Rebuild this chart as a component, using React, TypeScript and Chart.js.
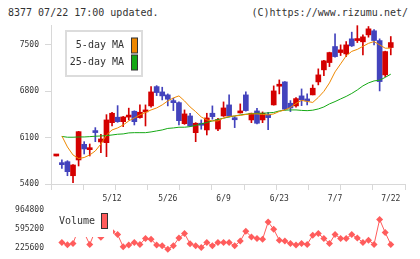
import { useEffect, useRef } from 'react';
import { Chart, registerables } from 'chart.js';

Chart.register(...registerables);

// Trading days shown on the chart
const DATES = [
  '4/23', '4/24', '4/25', '4/28', '4/30', '5/1', '5/2', '5/7', '5/8', '5/9',
  '5/12', '5/13', '5/14', '5/15', '5/16', '5/19', '5/20', '5/21', '5/22', '5/23',
  '5/26', '5/27', '5/28', '5/29', '5/30', '6/2', '6/3', '6/4', '6/5', '6/6',
  '6/9', '6/10', '6/11', '6/12', '6/13', '6/16', '6/17', '6/18', '6/19', '6/20',
  '6/23', '6/24', '6/25', '6/26', '6/27', '6/30', '7/1', '7/2', '7/3', '7/4',
  '7/7', '7/8', '7/9', '7/10', '7/11', '7/14', '7/15', '7/16', '7/17', '7/18',
  '7/22',
];

const OPEN = [
  5823, 5722, 5737, 5525, 5763, 5999, 5918, 6181, 6035, 6024,
  6326, 6408, 6341, 6410, 6498, 6402, 6488, 6579, 6870, 6790,
  6745, 6659, 6628, 6311, 6427, 6175, 6317, 6216, 6468, 6230,
  6427, 6594, 6378, 6473, 6745, 6367, 6503, 6367, 6443, 6594,
  6876, 6941, 6619, 6579, 6730, 6684, 6745, 6941, 7123, 7233,
  7475, 7384, 7364, 7591, 7565, 7546, 7651, 7712, 7565, 7047,
  7460,
];
const HIGH = [
  5823, 5763, 5752, 5695, 6195, 6039, 6004, 6251, 6151, 6447,
  6483, 6583, 6420, 6545, 6505, 6594, 6594, 6870, 6885, 6861,
  6760, 6695, 6640, 6518, 6468, 6326, 6367, 6468, 6579, 6393,
  6639, 6745, 6417, 6609, 6790, 6470, 6544, 6488, 6483, 6881,
  6971, 6945, 6659, 6704, 6835, 6760, 6896, 7138, 7265, 7390,
  7667, 7500, 7550, 7692, 7790, 7651, 7777, 7732, 7591, 7405,
  7626,
];
const LOW = [
  5823, 5637, 5525, 5420, 5672, 5853, 5823, 6039, 5873, 5813,
  6276, 6331, 6266, 6367, 6291, 6393, 6276, 6559, 6734, 6669,
  6579, 6508, 6291, 6300, 6270, 6039, 6227, 6140, 6378, 6205,
  6420, 6412, 6251, 6470, 6500, 6326, 6306, 6326, 6221, 6590,
  6760, 6518, 6493, 6559, 6583, 6594, 6745, 6896, 7036, 7172,
  7314, 7339, 7323, 7475, 7535, 7349, 7616, 7500, 6805, 7021,
  7349,
];
const CLOSE = [
  5823, 5692, 5586, 5687, 6190, 5929, 5944, 6176, 6080, 6367,
  6468, 6341, 6412, 6425, 6341, 6483, 6518, 6790, 6780, 6730,
  6680, 6628, 6356, 6458, 6276, 6317, 6287, 6397, 6417, 6372,
  6548, 6427, 6370, 6503, 6508, 6468, 6317, 6468, 6402, 6805,
  6881, 6529, 6548, 6689, 6669, 6654, 6846, 7047, 7259, 7384,
  7323, 7425, 7500, 7485, 7576, 7621, 7742, 7566, 6946, 7399,
  7535,
];

const MA5 = [
  null, 6125, 5959, 5838, 5785, 5800, 5838, 5899, 6004, 6140,
  6216, 6246, 6291, 6352, 6397, 6443, 6480, 6518, 6548, 6594,
  6654, 6699, 6730, 6654, 6563, 6492, 6412, 6367, 6352, 6352,
  6397, 6420, 6427, 6435, 6450, 6458, 6458, 6450, 6443, 6458,
  6495, 6518, 6556, 6616, 6662, 6647, 6631, 6707, 6798, 6926,
  7092, 7213, 7334, 7402, 7432, 7478, 7523, 7550, 7500, 7450,
  7450,
];
const MA25 = [
  null, 6118, 6106, 6106, 6110, 6110, 6115, 6121, 6125, 6130,
  6140, 6151, 6156, 6171, 6175, 6175, 6175, 6186, 6201, 6216,
  6239, 6246, 6257, 6257, 6266, 6284, 6307, 6329, 6352, 6375,
  6393, 6412, 6427, 6443, 6453, 6462, 6468, 6468, 6473, 6480,
  6503, 6514, 6518, 6518, 6511, 6507, 6514, 6533, 6563, 6609,
  6644, 6684, 6722, 6767, 6820, 6881, 6926, 6956, 6967, 7009,
  7058,
];

const VOLUME = [
  null, 338000, 295000, 319000, 600000, 520000, 300000, 560000, 437000, 640000,
  540000, 488000, 256000, 287000, 338000, 301000, 413000, 400000, 287000, 274000,
  207000, 274000, 424000, 507000, 312000, 274000, 244000, 338000, 274000, 338000,
  338000, 338000, 274000, 363000, 550000, 443000, 413000, 400000, 725000, 588000,
  381000, 363000, 319000, 287000, 319000, 301000, 475000, 507000, 413000, 319000,
  488000, 413000, 413000, 488000, 424000, 338000, 381000, 301000, 775000, 526000,
  301000,
];

const DATE_TICKS = ['5/12', '5/26', '6/9', '6/23', '7/7', '7/22'];
const PRICE_TICKS = [5400, 6100, 6800, 7500];
const VOLUME_TICKS = [225600, 595200, 964800];

const RED = '#d40000';
const BLUE = '#4343bd';
const ORANGE = '#ee8800';
const GREEN = '#14a814';
const VOL_COLOR = '#ff5c5c';
const AXIS_GRAY = '#d8d8d8';
const TEXT = '#333';
const MONO = '"DejaVu Sans Mono", "Liberation Mono", monospace';

const X_MIN = -0.95;
const X_MAX = 62.55;

const maLegend = {
  id: 'maLegend',
  afterDraw(chart: any) {
    const ctx = chart.ctx;
    const items = chart.data.datasets.filter((d: any) => d.type === 'line');
    ctx.save();
    ctx.fillStyle = '#fff';
    ctx.fillRect(65, 30, 78, 47);
    ctx.strokeStyle = '#dcdcdc';
    ctx.lineWidth = 2;
    ctx.strokeRect(66, 31, 76, 45);
    ctx.font = `10px ${MONO}`;
    ctx.textAlign = 'right';
    ctx.textBaseline = 'middle';
    items.forEach((d: any, k: number) => {
      const cy = 45.5 + k * 17;
      ctx.fillStyle = TEXT;
      ctx.fillText(d.label, 124, cy);
      ctx.fillStyle = d.borderColor;
      ctx.fillRect(131.5, cy - 7.5, 6, 15);
      ctx.strokeStyle = '#333';
      ctx.lineWidth = 1;
      ctx.strokeRect(131.5, cy - 7.5, 6, 15);
    });
    ctx.restore();
  },
};

// Volume legend: a white panel with label and swatch, laid over the top-left of the panel
const volumeLegend = {
  id: 'volumeLegend',
  afterDatasetsDraw(chart: any) {
    const ctx = chart.ctx;
    const d = chart.data.datasets[0];
    ctx.save();
    ctx.fillStyle = '#fff';
    ctx.fillRect(55, 0, 58, 34);
    ctx.font = `10px ${MONO}`;
    ctx.textAlign = 'left';
    ctx.textBaseline = 'middle';
    ctx.fillStyle = TEXT;
    ctx.fillText(d.label, 59, 18.5);
    ctx.fillStyle = d.borderColor;
    ctx.fillRect(101.5, 10.5, 6, 15);
    ctx.strokeStyle = '#333';
    ctx.lineWidth = 1;
    ctx.strokeRect(101.5, 10.5, 6, 15);
    ctx.restore();
  },
};

export default function App() {
  const priceRef = useRef<HTMLCanvasElement>(null);
  const volRef = useRef<HTMLCanvasElement>(null);

  useEffect(() => {
    const idx = DATES.map((_, i) => i);
    const candleColor = idx.map((i) => (CLOSE[i] >= OPEN[i] ? RED : BLUE));

    const price = new Chart(priceRef.current as HTMLCanvasElement, {
      type: 'bar',
      data: {
        datasets: [
          {
            type: 'line',
            label: '5-day MA',
            xAxisID: 'x',
            yAxisID: 'y',
            data: idx.map((i) => ({ x: i, y: MA5[i] })),
            borderColor: ORANGE,
            backgroundColor: ORANGE,
            borderWidth: 1,
            pointRadius: 0,
            tension: 0,
            order: 0,
          } as any,
          {
            type: 'line',
            label: '25-day MA',
            xAxisID: 'x',
            yAxisID: 'y',
            data: idx.map((i) => ({ x: i, y: MA25[i] })),
            borderColor: GREEN,
            backgroundColor: GREEN,
            borderWidth: 1,
            pointRadius: 0,
            tension: 0,
            order: 0,
          } as any,
          {
            type: 'bar',
            label: 'body',
            xAxisID: 'x',
            yAxisID: 'y',
            data: idx.map((i) => ({ x: i, y: [OPEN[i], CLOSE[i]] })),
            backgroundColor: candleColor,
            borderWidth: 0,
            borderSkipped: false,
            barThickness: 5,
            minBarLength: 2,
            grouped: false,
            order: 1,
          } as any,
          {
            type: 'bar',
            label: 'wick',
            xAxisID: 'x',
            yAxisID: 'y',
            data: idx.map((i) => ({ x: i, y: [LOW[i], HIGH[i]] })),
            backgroundColor: candleColor,
            borderWidth: 0,
            borderSkipped: false,
            barThickness: 1,
            grouped: false,
            order: 2,
          } as any,
        ],
      },
      options: {
        responsive: false,
        animation: false,
        events: [],
        layout: { padding: { left: 0, right: 15, top: 25, bottom: 0 } },
        plugins: { legend: { display: false }, tooltip: { enabled: false } },
        scales: {
          xt: {
            type: 'linear',
            axis: 'x',
            position: 'bottom',
            weight: 0,
            offset: false,
            min: 0,
            max: 11,
            ticks: { display: false, stepSize: 1 },
            grid: { offset: false, drawOnChartArea: false, drawTicks: true, tickLength: 6, color: AXIS_GRAY },
            border: { color: AXIS_GRAY },
          },
          x: {
            type: 'linear',
            axis: 'x',
            position: 'bottom',
            weight: 1,
            offset: false,
            min: X_MIN,
            max: X_MAX,
            grid: { offset: false, display: false, drawTicks: false },
            border: { display: false },
            afterBuildTicks: (scale: any) => {
              scale.ticks = DATE_TICKS.map((d) => ({ value: DATES.indexOf(d) }));
            },
            afterFit: (scale: any) => {
              scale.height = 15;
            },
            ticks: {
              autoSkip: false,
              maxRotation: 0,
              padding: 4,
              color: TEXT,
              font: { family: MONO, size: 8 },
              callback: (v: any) => DATES[v as number],
            },
          },
          y: {
            type: 'linear',
            position: 'left',
            min: 5400,
            max: 7800,
            grid: { drawOnChartArea: false, tickLength: 6, color: AXIS_GRAY },
            border: { color: AXIS_GRAY },
            afterBuildTicks: (scale: any) => {
              scale.ticks = PRICE_TICKS.map((v) => ({ value: v }));
            },
            afterFit: (scale: any) => {
              scale.width = 51;
            },
            ticks: {
              padding: 6,
              color: TEXT,
              font: { family: MONO, size: 8 },
              callback: (v: any) => String(v),
            },
          },
        },
      } as any,
      plugins: [maLegend],
    });

    const volume = new Chart(volRef.current as HTMLCanvasElement, {
      type: 'line',
      data: {
        datasets: [
          {
            label: 'Volume',
            xAxisID: 'x',
            yAxisID: 'y',
            data: idx.map((i) => ({ x: i, y: VOLUME[i] })),
            borderColor: VOL_COLOR,
            backgroundColor: VOL_COLOR,
            pointBackgroundColor: VOL_COLOR,
            pointBorderColor: VOL_COLOR,
            pointStyle: 'rectRot',
            pointRadius: 3.5,
            pointBorderWidth: 0,
            borderWidth: 1,
            tension: 0,
            clip: 8,
          } as any,
        ],
      },
      options: {
        responsive: false,
        animation: false,
        events: [],
        layout: { padding: { left: 0, right: 15, top: 2, bottom: 7 } },
        plugins: { legend: { display: false }, tooltip: { enabled: false } },
        scales: {
          x: { type: 'linear', offset: false, min: X_MIN, max: X_MAX, display: false },
          y: {
            type: 'linear',
            position: 'left',
            min: 156200,
            max: 1011700,
            grid: { display: false, drawTicks: false },
            border: { display: false },
            afterBuildTicks: (scale: any) => {
              scale.ticks = VOLUME_TICKS.map((v) => ({ value: v }));
            },
            afterFit: (scale: any) => {
              scale.width = 51;
              scale.paddingTop = 0;
              scale.paddingBottom = 0;
            },
            ticks: {
              padding: 7,
              color: TEXT,
              font: { family: MONO, size: 8 },
              callback: (v: any) => String(v),
            },
          },
        },
      } as any,
      plugins: [volumeLegend],
    });

    return () => {
      price.destroy();
      volume.destroy();
    };
  }, []);

  const headText: React.CSSProperties = {
    position: 'absolute',
    top: 7,
    fontFamily: MONO,
    fontSize: 10,
    lineHeight: '12px',
    color: TEXT,
    whiteSpace: 'pre',
  };

  return (
    <div style={{ position: 'fixed', left: 0, top: 0, width: 420, height: 259, background: '#fff' }}>
      <div style={{ ...headText, left: 8 }}>8377 07/22 17:00 updated.</div>
      <div style={{ ...headText, right: 12 }}>(C)https://www.rizumu.net/</div>
      <canvas
        ref={priceRef}
        width={420}
        height={205}
        style={{ position: 'absolute', left: 0, top: 0, width: 420, height: 205 }}
      />
      <canvas
        ref={volRef}
        width={420}
        height={56}
        style={{ position: 'absolute', left: 0, top: 203, width: 420, height: 56 }}
      />
    </div>
  );
}
